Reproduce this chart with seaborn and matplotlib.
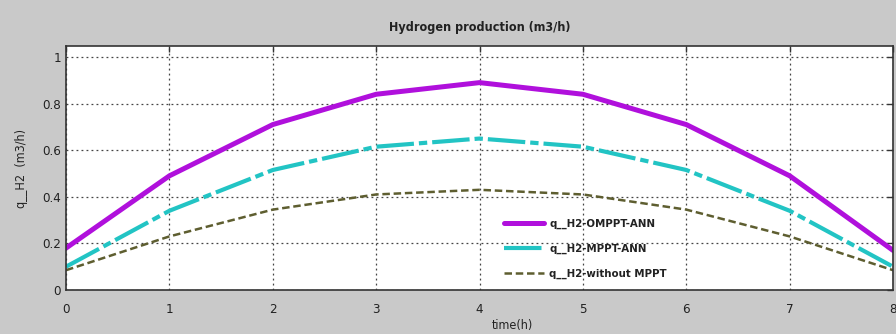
import matplotlib
matplotlib.use("Agg")
import matplotlib.pyplot as plt
import seaborn as sns
import pandas as pd

# Hourly hydrogen production (m3/h) for the three control strategies
hours = [0, 1, 2, 3, 4, 5, 6, 7, 8]
q_h2_omppt_ann = [0.18, 0.49, 0.71, 0.84, 0.89, 0.84, 0.71, 0.49, 0.17]
q_h2_mppt_ann = [0.10, 0.34, 0.515, 0.615, 0.65, 0.615, 0.515, 0.34, 0.10]
q_h2_without_mppt = [0.085, 0.23, 0.345, 0.41, 0.43, 0.41, 0.345, 0.23, 0.085]

series_labels = ["q__H2-OMPPT-ANN", "q__H2-MPPT-ANN", "q__H2-without MPPT"]
x_ticks = [0, 1, 2, 3, 4, 5, 6, 7, 8]
y_ticks = [0, 0.2, 0.4, 0.6, 0.8, 1]

sns.set_style("white")
plt.rcParams["font.family"] = ["DejaVu Sans"]
plt.rcParams["font.stretch"] = "condensed"

fig = plt.figure(figsize=(8.96, 3.34), dpi=100)
fig.patch.set_facecolor("#c9c9c9")
ax = fig.add_axes([0.0737, 0.1317, 0.9230, 0.7305])
ax.set_facecolor("white")

df = pd.DataFrame({"t": hours, "a": q_h2_omppt_ann, "b": q_h2_mppt_ann, "c": q_h2_without_mppt})

sns.lineplot(data=df, x="t", y="a", ax=ax, color="#b010dc", linewidth=3.6,
             label=series_labels[0])
sns.lineplot(data=df, x="t", y="b", ax=ax, color="#22c4c4", linewidth=3.0,
             label=series_labels[1])
ax.lines[-1].set_dashes([9, 1.2, 2, 1.2])
sns.lineplot(data=df, x="t", y="c", ax=ax, color="#5e5e30", linewidth=1.8,
             label=series_labels[2])
ax.lines[-1].set_dashes([3, 1.5])

ax.set_xlim(0, 8)
ax.set_ylim(0, 1.047)
ax.set_xticks(x_ticks)
ax.set_xticklabels([str(v) for v in x_ticks])
ax.set_yticks(y_ticks)
ax.set_yticklabels(["0", "0.2", "0.4", "0.6", "0.8", "1"])

ax.grid(True, color="#444444", linestyle=(0, (1.5, 2.5)), linewidth=0.9)
ax.tick_params(direction="in", length=4, width=1, colors="#333333",
               labelsize=9.5, top=True, right=True, labelcolor="#222222")
ax.tick_params(axis="x", pad=9)
for sp in ax.spines.values():
    sp.set_visible(True)
    sp.set_color("#333333")
    sp.set_linewidth(1.2)

ax.set_title("Hydrogen production (m3/h)", fontsize=9, fontweight="bold",
             color="#222222", pad=11)
ax.set_xlabel("time(h)", fontsize=9, color="#222222")
ax.xaxis.set_label_coords(0.54, -0.12)
ax.set_ylabel("q__H2  (m3/h)", fontsize=9, color="#222222", labelpad=10)

leg = ax.legend(loc="upper left", bbox_to_anchor=(0.524, 0.31), frameon=False,
                fontsize=8.2, handlelength=3.5, handletextpad=0.5,
                labelspacing=1.3, borderaxespad=0)
for t in leg.get_texts():
    t.set_fontweight("bold")
    t.set_color("#222222")

fig.savefig("out.png", dpi=100, facecolor=fig.get_facecolor())
